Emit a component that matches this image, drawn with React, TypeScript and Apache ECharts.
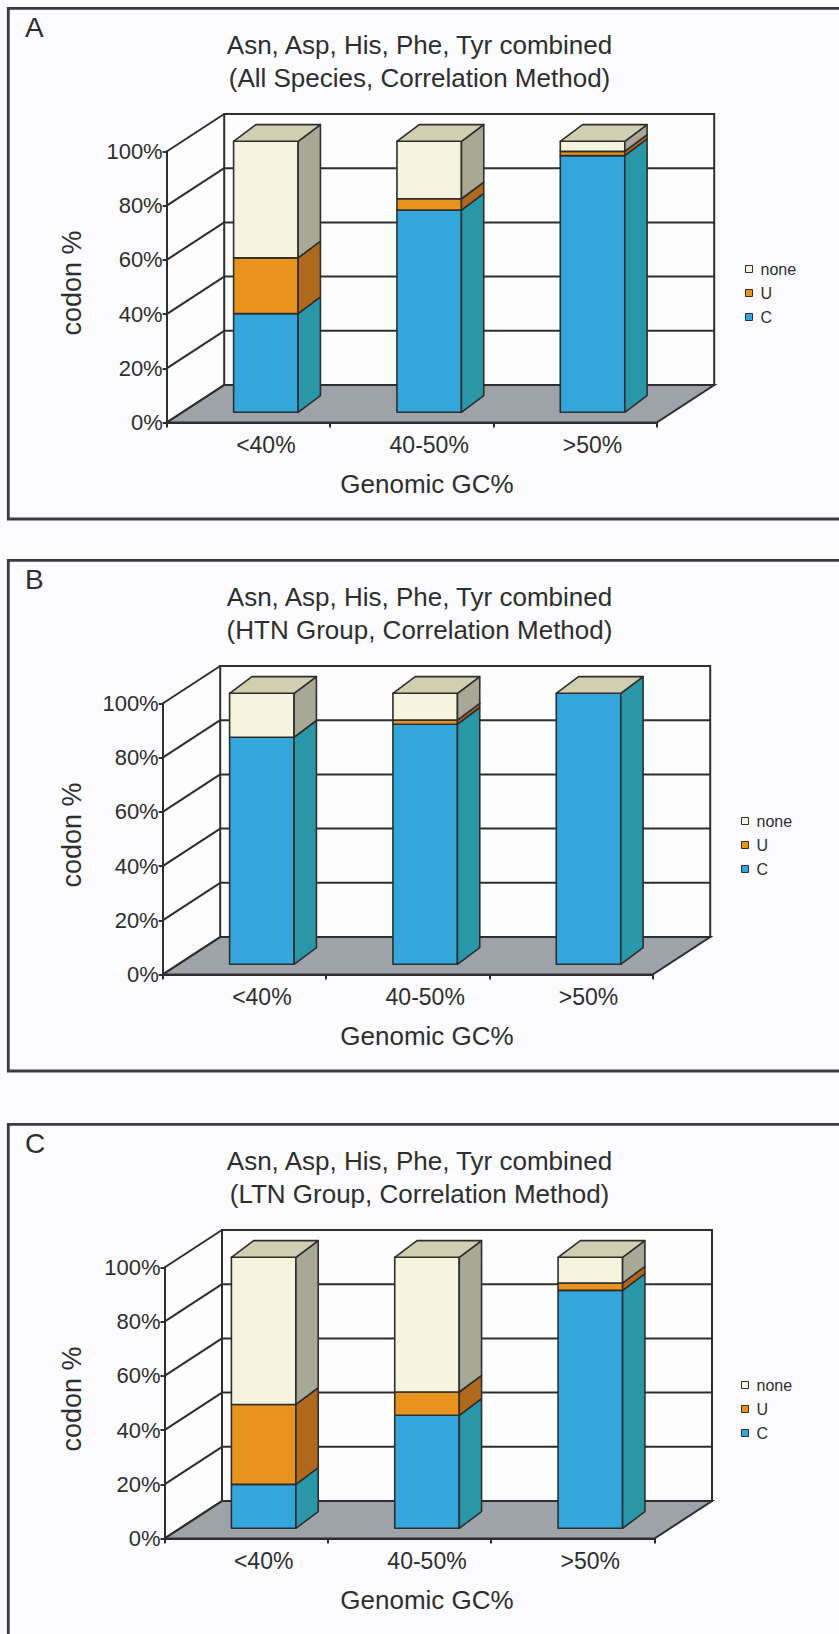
import React, { useEffect, useRef } from 'react';
import * as echarts from 'echarts';

// ---------- data ----------
const categories = ['<40%', '40-50%', '>50%'];
const yTicks = [0, 20, 40, 60, 80, 100];
const segmentNames = ['C', 'U', 'none'];
const legendOrder = ['none', 'U', 'C'];
const panelLetters = ['A', 'B', 'C'];
const titleLine1 = 'Asn, Asp, His, Phe, Tyr combined';
const titleLine2 = [
  '(All Species, Correlation Method)',
  '(HTN Group, Correlation Method)',
  '(LTN Group, Correlation Method)',
];
const xAxisName = 'Genomic GC%';
const yAxisName = 'codon %';

// Panel A: All Species
const allC = [36.4, 74.6, 94.7];
const allU = [20.6, 4.2, 1.6];
const allNone = [43.0, 21.2, 3.7];
// Panel B: HTN Group
const htnC = [83.8, 88.6, 100];
const htnU = [0, 1.5, 0];
const htnNone = [16.2, 9.9, 0];
// Panel C: LTN Group
const ltnC = [16.2, 41.7, 87.8];
const ltnU = [29.5, 8.6, 2.7];
const ltnNone = [54.3, 49.7, 9.5];

const panels = [
  [allC, allU, allNone],
  [htnC, htnU, htnNone],
  [ltnC, ltnU, ltnNone],
];

// ---------- layout / style ----------
const FONT = '"Liberation Sans", Arial, Helvetica, sans-serif';
const INK = '#2e2e2e';
const PANEL_DY = [0, 552, 1116];
const GRID_LEFT = [166.7, 162.7, 164.5];
const LEGEND_LEFT = [745, 741, 741];
const GRID_TOP = 151.5;
const GRID_W = 490;
const GRID_H = 271;
const DEPTH = [57.5, -37.5];
const BAR_FRONT = [17.5, -10.2];
const BAR_SIDE = [22.3, -16.7];
const BAR_FRAC = 0.395;
const FRONT_COL: Record<string, string> = { C: '#34a6dc', U: '#e9931f', none: '#f6f4de' };
const SIDE_COL: Record<string, string> = { C: '#2997a8', U: '#b0681c', none: '#a7a895' };
const TOP_COL = '#d1cfb2';

function buildOption() {
  const grid: any[] = [];
  const xAxis: any[] = [];
  const yAxis: any[] = [];
  const series: any[] = [];
  const title: any[] = [];
  const legend: any[] = [];
  const graphic: any[] = [];

  PANEL_DY.forEach((dy, p) => {
    grid.push({ left: GRID_LEFT[p], top: GRID_TOP + dy, width: GRID_W, height: GRID_H });
    xAxis.push({
      type: 'category',
      gridIndex: p,
      data: categories,
      boundaryGap: true,
      z: 5,
      axisLine: { show: true, lineStyle: { color: INK, width: 2 } },
      axisTick: { show: true, length: 5, lineStyle: { color: INK, width: 2 } },
      axisLabel: { fontSize: 23, color: INK, margin: 11, fontFamily: FONT, padding: [0, 0, 0, 35] },
      splitLine: { show: false },
    });
    yAxis.push({
      type: 'value',
      gridIndex: p,
      min: 0,
      max: 100,
      interval: 20,
      z: 5,
      axisLine: { show: true, lineStyle: { color: INK, width: 2 } },
      axisTick: { show: true, length: 4, lineStyle: { color: INK, width: 2 } },
      axisLabel: { formatter: '{value}%', fontSize: 22, color: INK, margin: 4, fontFamily: FONT },
      splitLine: { show: false },
    });

    // walls + floor + gridlines
    series.push({
      type: 'custom',
      name: 'walls' + p,
      xAxisIndex: p,
      yAxisIndex: p,
      silent: true,
      z: 1,
      data: [[0, 0]],
      renderItem: (params: any, api: any) => {
        const cs = params.coordSys;
        const x0 = cs.x;
        const x1 = cs.x + cs.width;
        const y0 = api.coord([0, 0])[1];
        const y100 = api.coord([0, 100])[1];
        const [dx, dz] = DEPTH;
        const children: any[] = [];
        children.push({
          type: 'polygon',
          shape: { points: [[x0, y100], [x0 + dx, y100 + dz], [x0 + dx, y0 + dz], [x0, y0]] },
          style: { fill: '#fdfdfe', stroke: null },
        });
        children.push({
          type: 'rect',
          shape: { x: x0 + dx, y: y100 + dz, width: x1 - x0, height: y0 - y100 },
          style: { fill: '#fdfdfe', stroke: INK, lineWidth: 2 },
        });
        children.push({
          type: 'polygon',
          shape: { points: [[x0, y0], [x1, y0], [x1 + dx, y0 + dz], [x0 + dx, y0 + dz]] },
          style: { fill: '#9ea2a9', stroke: INK, lineWidth: 2 },
        });
        yTicks.forEach((v) => {
          const y = api.coord([0, v])[1];
          children.push({
            type: 'line',
            shape: { x1: x0 + dx, y1: y + dz, x2: x1 + dx, y2: y + dz },
            style: { stroke: INK, lineWidth: 2 },
          });
          children.push({
            type: 'line',
            shape: { x1: x0, y1: y, x2: x0 + dx, y2: y + dz },
            style: { stroke: INK, lineWidth: 2 },
          });
        });
        return { type: 'group', children };
      },
    });

    // stacked 3D bars
    const vals = panels[p];
    segmentNames.forEach((name, k) => {
      const data = categories.map((_, i) => {
        let start = 0;
        for (let j = 0; j < k; j++) start += vals[j][i];
        return [i, start, start + vals[k][i]];
      });
      const isTop = k === segmentNames.length - 1;
      series.push({
        type: 'custom',
        name,
        xAxisIndex: p,
        yAxisIndex: p,
        silent: true,
        z: 3,
        itemStyle: { color: FRONT_COL[name], borderColor: INK, borderWidth: 1 },
        encode: { x: 0, y: [1, 2] },
        data,
        renderItem: (params: any, api: any) => {
          const idx = api.value(0);
          const s = api.value(1);
          const e = api.value(2);
          const base = api.coord([idx, 0]);
          const bandW = api.size([1, 0])[0];
          const w = bandW * BAR_FRAC;
          const cx = base[0] + BAR_FRONT[0];
          const xl = cx - w / 2;
          const xr = cx + w / 2;
          const yb = api.coord([idx, s])[1] + BAR_FRONT[1];
          const yt = api.coord([idx, e])[1] + BAR_FRONT[1];
          const [sx, sy] = BAR_SIDE;
          const children: any[] = [];
          const stroke = { stroke: INK, lineWidth: 1.6, lineJoin: 'round' };
          if (yb - yt > 0.01) {
            children.push({
              type: 'rect',
              shape: { x: xl, y: yt, width: w, height: yb - yt },
              style: { fill: FRONT_COL[name], ...stroke },
            });
            children.push({
              type: 'polygon',
              shape: { points: [[xr, yb], [xr + sx, yb + sy], [xr + sx, yt + sy], [xr, yt]] },
              style: { fill: SIDE_COL[name], ...stroke },
            });
          }
          if (isTop) {
            children.push({
              type: 'polygon',
              shape: { points: [[xl, yt], [xl + sx, yt + sy], [xr + sx, yt + sy], [xr, yt]] },
              style: { fill: TOP_COL, ...stroke },
            });
          }
          return { type: 'group', children };
        },
      });
    });

    title.push({
      text: titleLine1 + '\n' + titleLine2[p],
      left: 'center',
      top: 24 + dy,
      textStyle: { fontSize: 26, fontWeight: 'normal', lineHeight: 32.5, color: INK, fontFamily: FONT },
    });

    legend.push({
      data: legendOrder,
      orient: 'vertical',
      left: LEGEND_LEFT[p],
      top: 261 + dy,
      padding: 0,
      itemWidth: 7,
      itemHeight: 7,
      itemGap: 8,
      icon: 'rect',
      selectedMode: false,
      itemStyle: { borderColor: INK, borderWidth: 1 },
      textStyle: { fontSize: 16, lineHeight: 16, color: INK, fontFamily: FONT, padding: [0, 0, 0, 3] },
    });

    graphic.push({
      type: 'rect',
      shape: { x: 8.3, y: 8.3 + dy, width: 900, height: p === 2 ? 700 : 510.7 },
      style: { fill: 'none', stroke: '#3a3d40', lineWidth: 2.8 },
      silent: true,
    });
    graphic.push({
      type: 'text',
      x: 25,
      y: 27 + dy,
      style: { text: panelLetters[p], fontSize: 28, fontFamily: FONT, fill: INK, align: 'left', verticalAlign: 'middle', textAlign: 'left', textVerticalAlign: 'middle' },
      silent: true,
    });
    graphic.push({
      type: 'text',
      x: 72,
      y: 283 + dy,
      rotation: Math.PI / 2,
      style: { text: yAxisName, fontSize: 27, fontFamily: FONT, fill: INK, align: 'center', verticalAlign: 'middle', textAlign: 'center', textVerticalAlign: 'middle' },
      silent: true,
    });
    graphic.push({
      type: 'text',
      x: 427,
      y: 484 + dy,
      style: { text: xAxisName, fontSize: 26, fontFamily: FONT, fill: INK, align: 'center', verticalAlign: 'middle', textAlign: 'center', textVerticalAlign: 'middle' },
      silent: true,
    });
  });

  return {
    animation: false,
    backgroundColor: '#fbfbfd',
    textStyle: { fontFamily: FONT },
    title,
    legend,
    grid,
    xAxis,
    yAxis,
    series,
    graphic,
  };
}

export default function App() {
  const ref = useRef<HTMLDivElement>(null);
  useEffect(() => {
    if (!ref.current) return;
    const chart = echarts.init(ref.current, null, { renderer: 'svg' });
    chart.setOption(buildOption() as any);
    return () => chart.dispose();
  }, []);
  return (
    <div
      ref={ref}
      style={{ position: 'absolute', left: 0, top: 0, width: 839, height: 1634, background: '#fbfbfd' }}
    />
  );
}
